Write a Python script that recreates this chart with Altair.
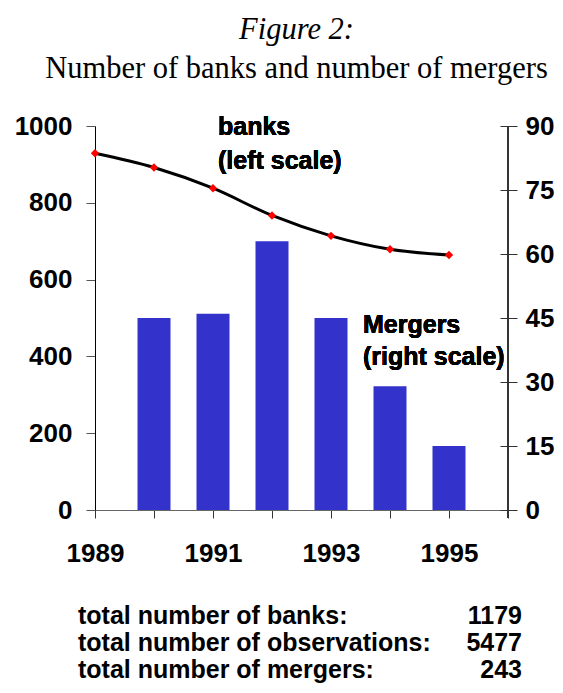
import altair as alt
import pandas as pd

# ---- data ----
years_banks = [1989, 1990, 1991, 1992, 1993, 1994, 1995]
banks = [929, 892, 838, 767, 714, 679, 664]
years_mergers = [1990, 1991, 1992, 1993, 1994, 1995]
mergers = [45, 46, 63, 45, 29, 15]
footer_labels = ["total number of banks:", "total number of observations:", "total number of mergers:"]
footer_values = ["1179", "5477", "243"]

x_ticks = [1989, 1990, 1991, 1992, 1993, 1994, 1995, 1996]
left_ticks = [0, 200, 400, 600, 800, 1000]
right_ticks = [0, 15, 30, 45, 60, 75, 90]

df_b = pd.DataFrame({"year": years_banks, "banks": banks})
df_m = pd.DataFrame({"year": years_mergers, "mergers": mergers})
df_f = pd.DataFrame({"label": footer_labels, "value": footer_values, "row": [0, 1, 2]})

FONT = "Liberation Sans"
SERIF = "Liberation Serif"
FS = 25      # annotation / footer text
AFS = 26     # axis tick labels

W, H = 413, 384

xscale = alt.Scale(domain=[1989, 1996], nice=False, zero=False, padding=0)
xaxis = alt.Axis(
    values=x_ticks, format="d",
    labelExpr="datum.value % 2 == 1 ? datum.label : ''",
    tickSize=8, labelPadding=22, labelFont=FONT, labelFontSize=AFS,
    labelFontWeight="bold", labelColor="black", domainColor="#666666",
    tickColor="#333333", grid=False, title=None, labelFlush=False,
)

bars = alt.Chart(df_m).mark_bar(size=33, color="#3333CC").encode(
    x=alt.X("year:Q", scale=xscale, axis=xaxis),
    y=alt.Y("mergers:Q", scale=alt.Scale(domain=[0, 90], nice=False),
            axis=alt.Axis(orient="right", values=right_ticks, offset=-8,
                          tickSize=17, labelPadding=8, domain=False, format="d",
                          tickColor="#333333", labelFont=FONT, labelFontSize=AFS,
                          labelFontWeight="bold", labelColor="black",
                          grid=False, title=None)),
)

left_axis = alt.Axis(orient="left", values=left_ticks, tickSize=9, labelPadding=14,
                     format="d", domainColor="black", tickColor="#555555", labelFont=FONT,
                     labelFontSize=AFS, labelFontWeight="bold", labelColor="black",
                     grid=False, title=None)
yleft = alt.Scale(domain=[0, 1000], nice=False)

line = alt.Chart(df_b).mark_line(color="black", strokeWidth=3, interpolate="monotone").encode(
    x=alt.X("year:Q", scale=xscale),
    y=alt.Y("banks:Q", scale=yleft, axis=left_axis),
)
pts = alt.Chart(df_b).mark_point(shape="diamond", filled=True, color="#FF0000", size=70, opacity=1).encode(
    x=alt.X("year:Q", scale=xscale),
    y=alt.Y("banks:Q", scale=yleft, axis=left_axis),
)
banks_layer = alt.layer(line, pts)

right_domain = alt.Chart(df_m).mark_rule(color="#333333", strokeWidth=1).encode(
    x=alt.datum(1996), y=alt.value(0), y2=alt.value(H + 8)
)

def note(text, x, y, align="left"):
    return alt.Chart(df_m).mark_text(
        text=text, font=FONT, fontSize=FS, fontWeight="bold", color="black",
        align=align, baseline="middle"
    ).encode(x=alt.value(x), y=alt.value(y))

notes = [
    note("banks", 123, 1),
    note("(left scale)", 123, 35),
    note("Mergers", 268, 199),
    note("(right scale)", 268, 231),
]

foot_lab = alt.Chart(df_f).transform_calculate(py="498 + datum.row * 27").mark_text(
    font=FONT, fontSize=FS, fontWeight="bold", color="black", align="left", baseline="alphabetic"
).encode(x=alt.value(-17), y=alt.Y("py:Q", scale=None), text="label:N")
foot_val = alt.Chart(df_f).transform_calculate(py="498 + datum.row * 27").mark_text(
    font=FONT, fontSize=FS, fontWeight="bold", color="black", align="right", baseline="alphabetic"
).encode(x=alt.value(427), y=alt.Y("py:Q", scale=None), text="value:N")

chart = alt.layer(bars, banks_layer, right_domain, *notes, foot_lab, foot_val).resolve_scale(
    y="independent"
).properties(
    width=W, height=H,
    autosize=alt.AutoSizeParams(type="none"),
    padding={"left": 87, "top": 118, "right": 47, "bottom": 175},
    title=alt.Title(
        text="Figure 2:", subtitle="Number of banks and number of mergers",
        font=SERIF, fontSize=30.5, fontStyle="italic", fontWeight="normal", color="black",
        subtitleFont=SERIF, subtitleFontSize=30.5, subtitleColor="black",
        subtitlePadding=8, anchor="middle", offset=29, dx=-5,
    ),
).configure_view(stroke=None)

chart.save("out.html", embed_options={"renderer": "svg", "actions": False})
